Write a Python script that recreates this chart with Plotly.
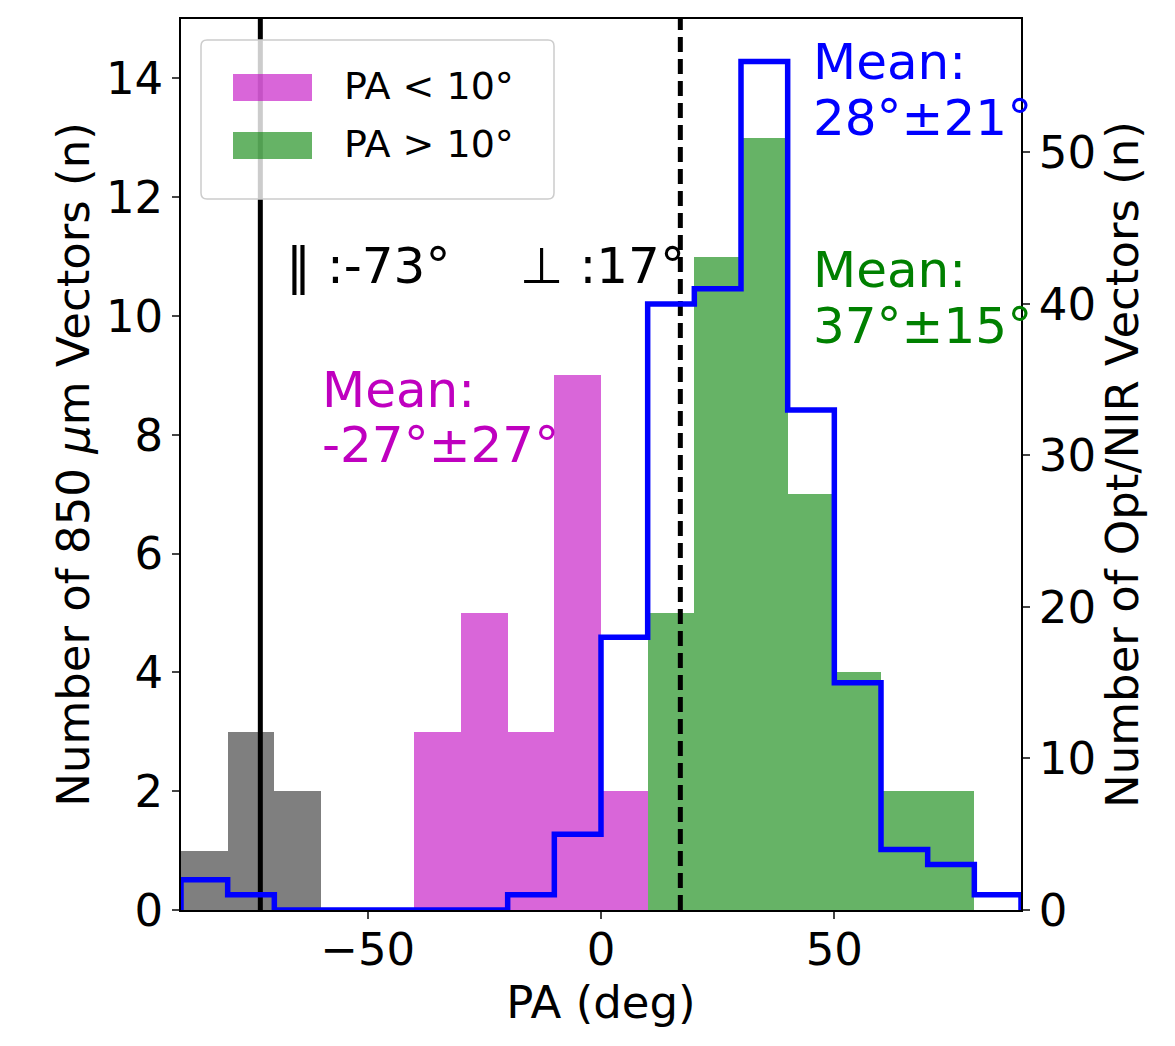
import plotly.graph_objects as go

# ---------------- data ----------------
bin_edges = [-90, -80, -70, -60, -50, -40, -30, -20, -10, 0, 10, 20, 30, 40, 50, 60, 70, 80, 90]
# 850 um vectors, split by group (counts per 10-deg bin)
gray_counts  = [1, 3, 2, 0, 0, 0, 0, 0, 0, 0, 0, 0, 0, 0, 0, 0, 0, 0]
pink_counts  = [0, 0, 0, 0, 0, 3, 5, 3, 9, 2, 0, 0, 0, 0, 0, 0, 0, 0]
green_counts = [0, 0, 0, 0, 0, 0, 0, 0, 0, 0, 5, 11, 13, 7, 4, 2, 2, 0]
# Opt/NIR vectors (right axis)
optnir_counts = [2, 1, 0, 0, 0, 0, 0, 1, 5, 18, 40, 41, 56, 33, 15, 4, 3, 1]

parallel_pa = -73
perp_pa = 17

legend_labels = ["PA < 10°", "PA > 10°"]
texts_black = ["‖ :-73°", "⊥ :17°"]
mean_pink = ["Mean:", "-27°±27°"]
mean_green = ["Mean:", "37°±15°"]
mean_blue = ["Mean:", "28°±21°"]

FONT = "DejaVu Sans"
C_GRAY = "rgba(0,0,0,0.5)"
C_PINK = "rgba(191,0,191,0.6)"
C_GREEN = "rgba(0,128,0,0.6)"

centers = [(bin_edges[i] + bin_edges[i + 1]) / 2 for i in range(len(bin_edges) - 1)]
widths = [bin_edges[i + 1] - bin_edges[i] for i in range(len(bin_edges) - 1)]

fig = go.Figure()

def add_bars(counts, color, name):
    xs = [c for c, v in zip(centers, counts) if v > 0]
    ws = [w for w, v in zip(widths, counts) if v > 0]
    ys = [v for v in counts if v > 0]
    fig.add_trace(go.Bar(x=xs, y=ys, width=ws, marker=dict(color=color, line=dict(width=0)),
                         name=name, showlegend=False, yaxis="y"))

add_bars(gray_counts, C_GRAY, "gray")
add_bars(pink_counts, C_PINK, "PA < 10°")
add_bars(green_counts, C_GREEN, "PA > 10°")

# vertical reference lines
fig.add_trace(go.Scatter(x=[parallel_pa, parallel_pa], y=[0, 15], mode="lines",
                         line=dict(color="black", width=5), showlegend=False, yaxis="y"))
fig.add_trace(go.Scatter(x=[perp_pa, perp_pa], y=[0, 15], mode="lines",
                         line=dict(color="black", width=5, dash="15px,7px"), showlegend=False, yaxis="y"))

# step histogram on right axis
sx = [bin_edges[0]] + bin_edges[:-1] + [bin_edges[-1], bin_edges[-1]]
sy = [0] + optnir_counts + [optnir_counts[-1], 0]
fig.add_trace(go.Scatter(x=sx, y=sy, mode="lines", line=dict(color="#0000FF", width=5.5, shape="hv"),
                         showlegend=False, yaxis="y2"))

annotations = []
def txt(x, y, s, color, size=50):
    annotations.append(dict(x=x, y=y, xref="x", yref="y", text=s, showarrow=False,
                            xanchor="left", yanchor="middle",
                            font=dict(family=FONT, size=size, color=color)))

txt(-68, 10.85, texts_black[0], "black")
txt(-17.8, 10.85, texts_black[1], "black")
txt(-60.3, 8.76, mean_pink[0], "#BF00BF")
txt(-60.3, 7.82, mean_pink[1], "#BF00BF")
txt(45.0, 10.77, mean_green[0], "#008000")
txt(45.0, 9.84, mean_green[1], "#008000")
txt(45.0, 14.27, mean_blue[0], "#0000FF")
txt(45.0, 13.33, mean_blue[1], "#0000FF")

# manual legend (paper coords computed from pixel layout)
W, H = 1175, 1046
L, R, T, B = 181, 154, 19, 136
pw, ph = W - L - R, H - T - B
def px(x): return (x - L) / pw
def py(y): return 1 - (y - T) / ph

shapes = []
bx0, bx1, by0, by1 = 201, 554, 40, 199
rad = 6
path = (f"M {px(bx0+rad)},{py(by0)} L {px(bx1-rad)},{py(by0)} Q {px(bx1)},{py(by0)} {px(bx1)},{py(by0+rad)} "
        f"L {px(bx1)},{py(by1-rad)} Q {px(bx1)},{py(by1)} {px(bx1-rad)},{py(by1)} "
        f"L {px(bx0+rad)},{py(by1)} Q {px(bx0)},{py(by1)} {px(bx0)},{py(by1-rad)} "
        f"L {px(bx0)},{py(by0+rad)} Q {px(bx0)},{py(by0)} {px(bx0+rad)},{py(by0)} Z")
shapes.append(dict(type="path", path=path, xref="paper", yref="paper", layer="above",
                   fillcolor="rgba(255,255,255,0.8)", line=dict(color="#CCCCCC", width=1.5)))
for (ytop, color, label) in [(74, C_PINK, legend_labels[0]), (132, C_GREEN, legend_labels[1])]:
    shapes.append(dict(type="rect", xref="paper", yref="paper", layer="above",
                       x0=px(233), x1=px(312), y0=py(ytop + 27), y1=py(ytop),
                       fillcolor=color, line=dict(width=0)))
    annotations.append(dict(x=px(342), y=py(ytop + 12), xref="paper", yref="paper", text=label,
                            showarrow=False, xanchor="left", yanchor="middle",
                            font=dict(family=FONT, size=38, color="black")))

TICK = 45
TITLE = 45
fig.update_layout(
    width=W, height=H,
    margin=dict(l=L, r=R, t=T, b=B, autoexpand=False),
    paper_bgcolor="white", plot_bgcolor="white",
    barmode="overlay", bargap=0,
    font=dict(family=FONT, color="black"),
    xaxis=dict(range=[-90, 90], tickvals=[-50, 0, 50], ticks="outside", ticklen=7, tickwidth=1.5,
               showline=True, linecolor="black", linewidth=1.5, mirror=True, showgrid=False, zeroline=False,
               tickfont=dict(size=TICK, family=FONT), ticklabelstandoff=-8,
               title=dict(text="PA (deg)", font=dict(size=TITLE, family=FONT), standoff=0)),
    yaxis=dict(range=[0, 15], tickvals=list(range(0, 15, 2)), ticks="outside", ticklen=7, tickwidth=1.5,
               showline=True, linecolor="black", linewidth=1.5, showgrid=False, zeroline=False,
               tickfont=dict(size=TICK, family=FONT),
               title=dict(text="Number of 850 <i>μ</i>m Vectors (n)", font=dict(size=TITLE, family=FONT), standoff=2)),
    yaxis2=dict(range=[0, 58.8], tickvals=list(range(0, 60, 10)), overlaying="y", side="right",
                ticks="outside", ticklen=7, tickwidth=1.5,
                showline=True, linecolor="black", linewidth=1.5, showgrid=False, zeroline=False,
                tickfont=dict(size=TICK, family=FONT),
                title=dict(text="Number of Opt/NIR Vectors (n)", font=dict(size=TITLE, family=FONT), standoff=7)),
    annotations=annotations,
    shapes=shapes,
)

fig.write_html("out.html")
